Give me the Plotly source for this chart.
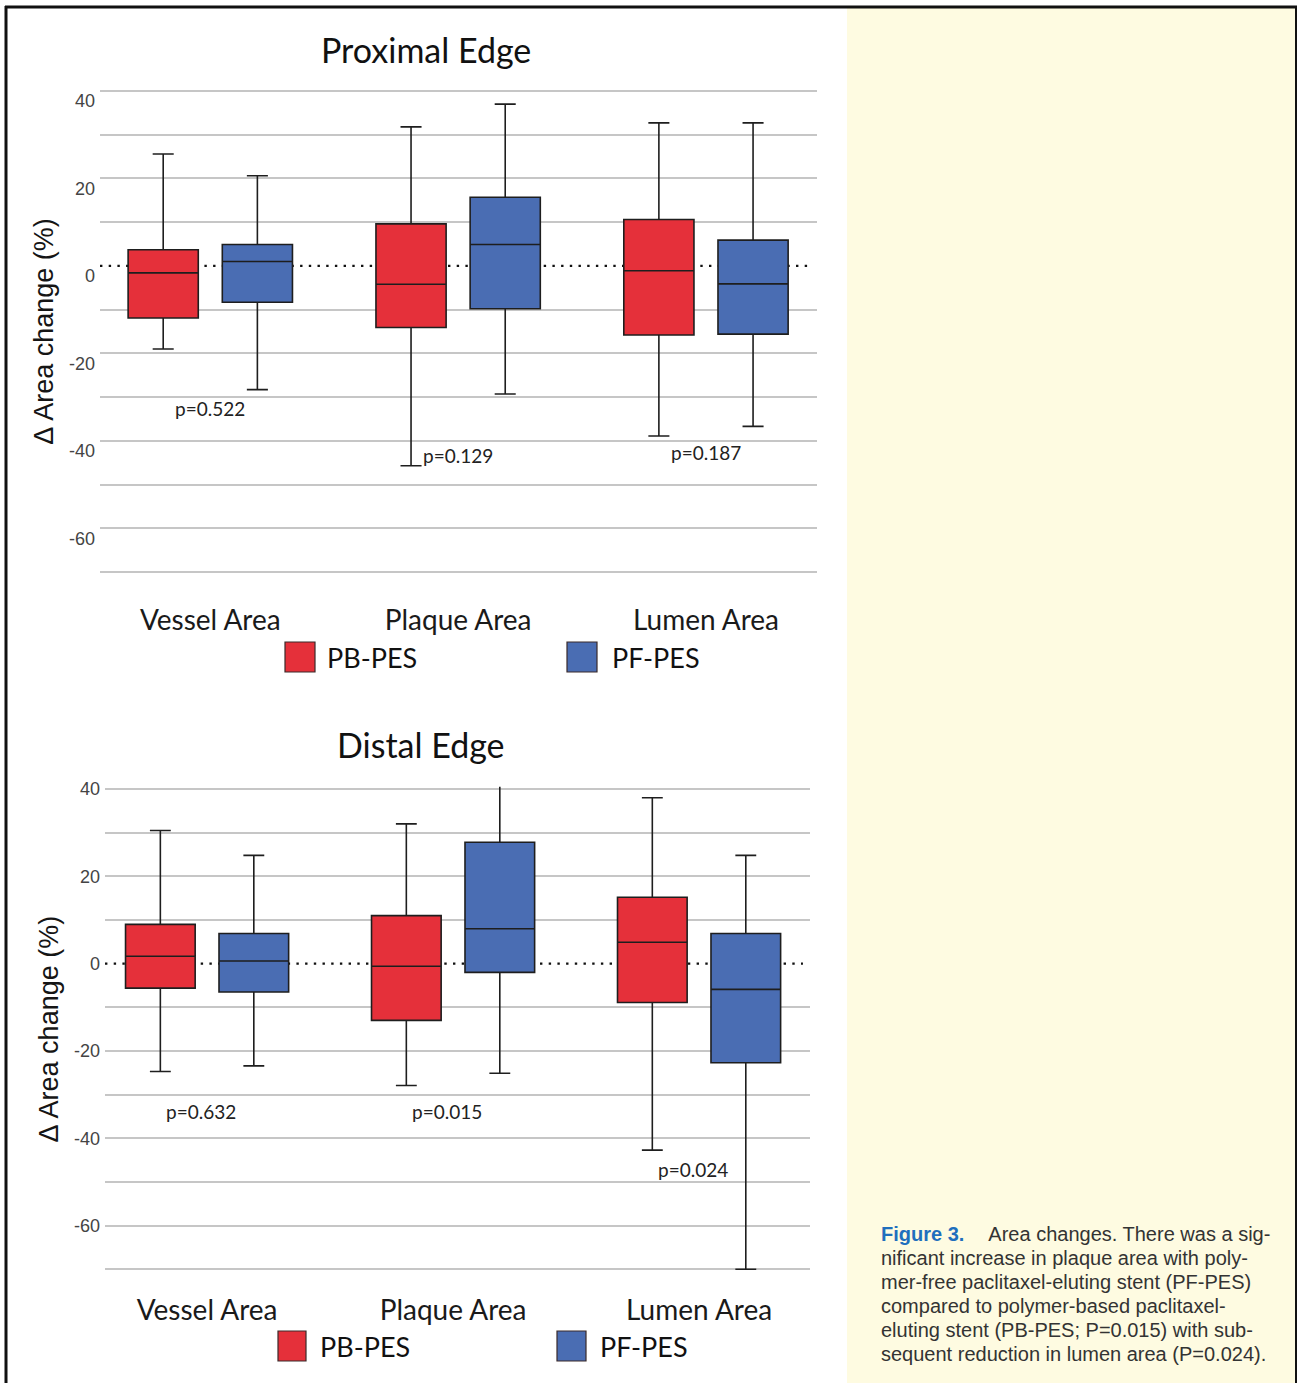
import plotly.graph_objects as go

# ---------------- data ----------------
categories = ["Vessel Area", "Plaque Area", "Lumen Area"]
series_names = ["PB-PES", "PF-PES"]

# Proximal edge
prox_pb_lower = [-19.0, -45.7, -38.9]
prox_pb_q1 = [-11.9, -14.1, -15.8]
prox_pb_median = [-1.6, -4.2, -1.1]
prox_pb_q3 = [3.7, 9.6, 10.6]
prox_pb_upper = [25.6, 31.8, 32.7]

prox_pf_lower = [-28.3, -29.3, -36.7]
prox_pf_q1 = [-8.3, -9.8, -15.6]
prox_pf_median = [1.0, 4.9, -4.1]
prox_pf_q3 = [4.9, 15.7, 5.9]
prox_pf_upper = [20.6, 37.0, 32.7]

# Distal edge
dist_pb_lower = [-24.7, -27.9, -42.7]
dist_pb_q1 = [-5.6, -13.0, -8.9]
dist_pb_median = [1.7, -0.6, 4.9]
dist_pb_q3 = [9.0, 11.0, 15.2]
dist_pb_upper = [30.5, 32.0, 38.0]

dist_pf_lower = [-23.4, -25.1, -70.0]
dist_pf_q1 = [-6.5, -2.0, -22.7]
dist_pf_median = [0.6, 8.0, -5.9]
dist_pf_q3 = [6.9, 27.8, 6.9]
dist_pf_upper = [24.8, 41.2, 24.8]

prox_pvalues = ["p=0.522", "p=0.129", "p=0.187"]
dist_pvalues = ["p=0.632", "p=0.015", "p=0.024"]

y_major_ticks = [-60, -40, -20, 0, 20, 40]
y_major_labels = ["-60", "-40", "-20", "0", "20", "40"]
y_grid_vals = [-70, -60, -50, -40, -30, -20, -10, 10, 20, 30, 40]

caption_lines = [
    "Area changes. There was a sig-",
    "nificant increase in plaque area with poly-",
    "mer-free paclitaxel-eluting stent (PF-PES)",
    "compared to polymer-based paclitaxel-",
    "eluting stent (PB-PES; P=0.015) with sub-",
    "sequent reduction in lumen area (P=0.024).",
]

# ---------------- styling ----------------
W, H = 1297, 1383
RED = "#E5303A"
BLUE = "#4A6DB3"
OUTLINE = "#1e1e1e"
GRID = "#c6c6c6"
HUMAN = "Lato, 'Open Sans', sans-serif"
ARIAL = "'Liberation Sans', Arial, sans-serif"


def px(x):
    return x / W


def py(y):
    return 1 - y / H


fig = go.Figure()


def add_boxes(xa, ya, pb, pf):
    for name, color, d in ((series_names[0], RED, pb), (series_names[1], BLUE, pf)):
        lo, q1, med, q3, up = d
        fig.add_trace(go.Box(
            name=name, x=categories, lowerfence=lo, q1=q1, median=med, q3=q3,
            upperfence=up, fillcolor=color, line=dict(color=OUTLINE, width=1.6),
            whiskerwidth=0.3, boxpoints=False, showlegend=False,
            xaxis=xa, yaxis=ya, offsetgroup=name,
        ))


add_boxes("x", "y",
          (prox_pb_lower, prox_pb_q1, prox_pb_median, prox_pb_q3, prox_pb_upper),
          (prox_pf_lower, prox_pf_q1, prox_pf_median, prox_pf_q3, prox_pf_upper))
add_boxes("x2", "y2",
          (dist_pb_lower, dist_pb_q1, dist_pb_median, dist_pb_q3, dist_pb_upper),
          (dist_pf_lower, dist_pf_q1, dist_pf_median, dist_pf_q3, dist_pf_upper))

xaxis_common = dict(type="category", categoryorder="array", categoryarray=categories,
                    showgrid=False, zeroline=False, showline=False, ticks="",
                    automargin=False,
                    tickfont=dict(family=HUMAN, size=28, color="#1a1a1a"))
yaxis_common = dict(range=[-70.5, 40.5], tickmode="array", tickvals=y_major_ticks,
                    ticktext=y_major_labels, automargin=False, ticklabelstandoff=4,
                    showgrid=False, zeroline=False, showline=False, ticks="",
                    tickfont=dict(family=ARIAL, size=18, color="#444444"),
                    minor=dict(tickmode="array", tickvals=y_grid_vals, showgrid=True,
                               gridcolor=GRID, gridwidth=1.8, ticks=""),
                    title=dict(text="Δ Area change (%)", standoff=7,
                               font=dict(family=ARIAL, size=27, color="#151515")))

fig.update_layout(
    width=W, height=H,
    margin=dict(l=0, r=0, t=0, b=0, autoexpand=False),
    paper_bgcolor="white", plot_bgcolor="rgba(0,0,0,0)",
    boxmode="group", boxgap=0.24, boxgroupgap=0.255,
    showlegend=False,
    xaxis=dict(domain=[px(100), px(817)], range=[-0.445, 2.448], anchor="y",
               ticklabelstandoff=27, **xaxis_common),
    yaxis=dict(domain=[py(574.2), py(88.8)], anchor="x", ticklabelshift=10, **yaxis_common),
    xaxis2=dict(domain=[px(105), px(810)], range=[-0.415, 2.451], anchor="y2",
                ticklabelstandoff=19, **xaxis_common),
    yaxis2=dict(domain=[py(1271.5), py(786.8)], anchor="x2", **yaxis_common),
)

shapes = []
# beige caption panel and frame
shapes.append(dict(type="rect", xref="paper", yref="paper", x0=px(847), x1=1.0,
                   y0=0, y1=py(8), fillcolor="#FEFBE1", line=dict(width=0), layer="below"))
shapes.append(dict(type="line", xref="paper", yref="paper", x0=px(5), x1=1.0,
                   y0=py(7), y1=py(7), line=dict(color="#111", width=3)))
shapes.append(dict(type="line", xref="paper", yref="paper", x0=px(6), x1=px(6),
                   y0=0, y1=py(6), line=dict(color="#111", width=3)))
shapes.append(dict(type="line", xref="paper", yref="paper", x0=px(1296), x1=px(1296),
                   y0=0, y1=py(6), line=dict(color="#111", width=2)))
# dotted zero reference lines
for xr, yr in (("x domain", "y"), ("x2 domain", "y2")):
    shapes.append(dict(type="line", xref=xr, yref=yr, x0=0, x1=0.99, y0=0, y1=0,
                       line=dict(color="#111", width=2.4, dash="2.4px,6.3px"), layer="below"))
# legend swatches
legend_rows = [
    (657, [(285, 315, 325), (567, 597, 610)]),
    (1346, [(278, 306, 318), (557, 586, 598)]),
]
annotations = []
for cy, items in legend_rows:
    for (x0, x1, tx), color, name in zip(items, (RED, BLUE), series_names):
        shapes.append(dict(type="rect", xref="paper", yref="paper", x0=px(x0), x1=px(x1),
                           y0=py(cy + 15), y1=py(cy - 15), fillcolor=color,
                           line=dict(color="#3a2a2a", width=1.2)))
        annotations.append(dict(xref="paper", yref="paper", x=px(tx), y=py(cy), text=name,
                                showarrow=False, xanchor="left", yanchor="middle",
                                font=dict(family=HUMAN, size=27, color="#111")))

# panel titles
annotations.append(dict(xref="paper", yref="paper", x=px(426), y=py(50), text="Proximal Edge",
                        showarrow=False, xanchor="center", yanchor="middle",
                        font=dict(family=HUMAN, size=34, color="#111")))
annotations.append(dict(xref="paper", yref="paper", x=px(421), y=py(744), text="Distal Edge",
                        showarrow=False, xanchor="center", yanchor="middle",
                        font=dict(family=HUMAN, size=34, color="#111")))

# p-value labels
prox_p_y = [-32.7, -43.4, -42.7]
dist_p_y = [-33.8, -33.8, -47.1]
for cat, txt, yv in zip(categories, prox_pvalues, prox_p_y):
    annotations.append(dict(xref="x", yref="y", x=cat, y=yv, text=txt, showarrow=False,
                            xanchor="center", yanchor="middle",
                            font=dict(family=HUMAN, size=19, color="#222")))
for cat, txt, yv in zip(categories, dist_pvalues, dist_p_y):
    annotations.append(dict(xref="x2", yref="y2", x=cat, y=yv, text=txt, showarrow=False,
                            xanchor="center", yanchor="middle", xshift=-6,
                            font=dict(family=HUMAN, size=19, color="#222")))

# caption
for i, line in enumerate(caption_lines):
    text = line
    if i == 0:
        text = ("<b><span style=\"color:#1f6fbd\">Figure 3.</span></b>"
                "\u2003\u2009" + line)
    annotations.append(dict(xref="paper", yref="paper", x=px(879), y=py(1234 + 24 * i),
                            text=text, showarrow=False, xanchor="left", yanchor="middle",
                            align="left", font=dict(family=ARIAL, size=20, color="#333")))

fig.update_layout(shapes=shapes, annotations=annotations)
fig.write_html("out.html", config={"displayModeBar": False},
               post_script="document.body.style.margin='0';document.body.style.padding='0';")
